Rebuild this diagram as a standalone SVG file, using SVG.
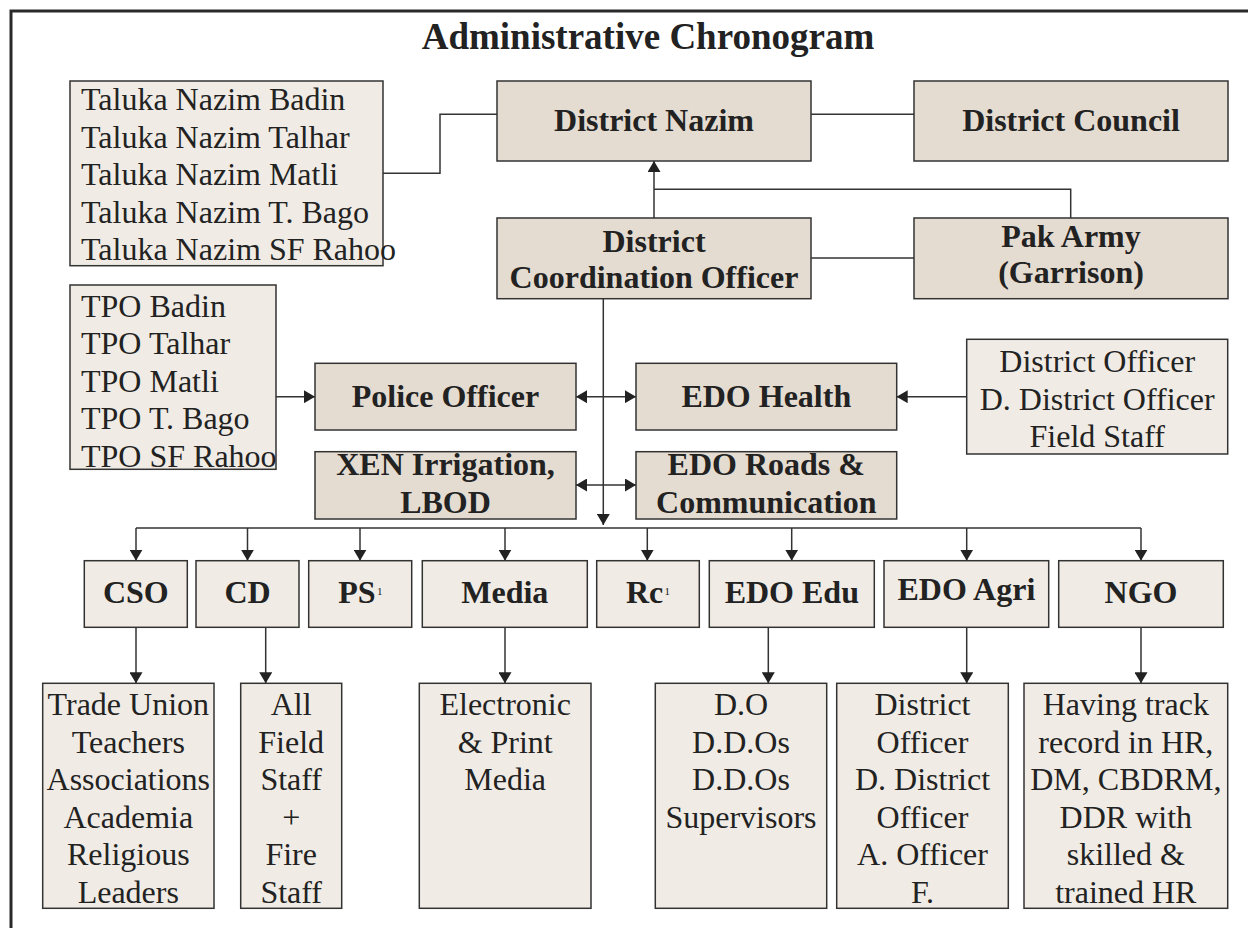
<svg xmlns="http://www.w3.org/2000/svg" width="1248" height="928" viewBox="0 0 1248 928">
<style>
  .dk { fill: #e5dcd1; stroke: #333; stroke-width: 1.5; }
  .lt { fill: #f0ece5; stroke: #333; stroke-width: 1.5; }
  .b { font-family: "Liberation Serif", "DejaVu Serif", serif; font-weight: bold; font-size: 32px; fill: #222; text-anchor: middle; }
  .r { font-family: "Liberation Serif", "DejaVu Serif", serif; font-size: 32px; fill: #222; text-anchor: middle; }
  .l { font-family: "Liberation Serif", "DejaVu Serif", serif; font-size: 32px; fill: #222; }
  .sup { font-family: "Liberation Serif", "DejaVu Serif", serif; font-size: 11px; fill: #222; }
  .c { fill: none; stroke: #333; stroke-width: 1.5; }
  .ar { marker-end: url(#ah); }
  .dbl { marker-start: url(#ah); marker-end: url(#ah); }
</style>
<defs>
  <marker id="ah" viewBox="0 0 11 13" refX="11" refY="6.5" markerWidth="11" markerHeight="13" markerUnits="userSpaceOnUse" orient="auto-start-reverse">
    <path d="M0,0 L11,6.5 L0,13 z" fill="#222"/>
  </marker>
</defs>
<rect width="1248" height="928" fill="#fff"/>
<path d="M11,928 V11 H1248" fill="none" stroke="#2a2a2a" stroke-width="3"/>
<text x="648" y="49" class="b" font-size="37" style="font-size:37px">Administrative Chronogram</text>

<g id="connectors">
  <path class="c" d="M383,173.3 H440 V114.3 H497"/>
  <path class="c" d="M811,114.3 H914"/>
  <path class="c ar" d="M654,218 V161"/>
  <path class="c" d="M1070.7,218 V189.3 H654"/>
  <path class="c" d="M811,258 H914"/>
  <path class="c ar" d="M276,396.7 H315"/>
  <path class="c dbl" d="M576,396.7 H636"/>
  <path class="c ar" d="M966.7,396.7 H896.7"/>
  <path class="c dbl" d="M576,485 H636"/>
  <path class="c ar" d="M603.3,298.7 V525"/>
  <path class="c" d="M136,528 H1141"/>
  <path class="c ar" d="M136,528 V560.7"/>
  <path class="c ar" d="M247.5,528 V560.7"/>
  <path class="c ar" d="M360,528 V560.7"/>
  <path class="c ar" d="M505,528 V560.7"/>
  <path class="c ar" d="M647.3,528 V560.7"/>
  <path class="c ar" d="M791.7,528 V560.7"/>
  <path class="c ar" d="M966.7,528 V560.7"/>
  <path class="c ar" d="M1141,528 V560.7"/>
  <path class="c ar" d="M136,627.3 V683.3"/>
  <path class="c ar" d="M265.7,627.3 V683.3"/>
  <path class="c ar" d="M505,627.3 V683.3"/>
  <path class="c ar" d="M768.3,627.3 V683.3"/>
  <path class="c ar" d="M966.7,627.3 V683.3"/>
  <path class="c ar" d="M1141,627.3 V683.3"/>
</g>

<g id="taluka">
  <rect class="lt" x="70" y="81" width="313" height="184.7"/>
  <text class="l" x="81" y="110">Taluka Nazim Badin</text>
  <text class="l" x="81" y="147.5">Taluka Nazim Talhar</text>
  <text class="l" x="81" y="185">Taluka Nazim Matli</text>
  <text class="l" x="81" y="222.5">Taluka Nazim T. Bago</text>
  <text class="l" x="81" y="260">Taluka Nazim SF Rahoo</text>
</g>

<g id="district-nazim">
  <rect class="dk" x="497" y="81" width="314" height="80"/>
  <text class="b" x="654" y="131">District Nazim</text>
</g>

<g id="district-council">
  <rect class="dk" x="914" y="81" width="314" height="80"/>
  <text class="b" x="1071" y="131">District Council</text>
</g>

<g id="dco">
  <rect class="dk" x="497" y="218" width="314" height="80.7"/>
  <text class="b" x="654" y="251.5">District</text>
  <text class="b" x="654" y="288">Coordination Officer</text>
</g>

<g id="pak-army">
  <rect class="dk" x="914" y="218" width="314" height="80.7"/>
  <text class="b" x="1071" y="246.7">Pak Army</text>
  <text class="b" x="1071" y="282.7">(Garrison)</text>
</g>

<g id="tpo">
  <rect class="lt" x="70" y="285" width="206" height="184.3"/>
  <text class="l" x="81" y="316.7">TPO Badin</text>
  <text class="l" x="81" y="354.2">TPO Talhar</text>
  <text class="l" x="81" y="391.7">TPO Matli</text>
  <text class="l" x="81" y="429.2">TPO T. Bago</text>
  <text class="l" x="81" y="466.7">TPO SF Rahoo</text>
</g>

<g id="police">
  <rect class="dk" x="315" y="363.3" width="261" height="66.7"/>
  <text class="b" x="445.5" y="406.7">Police Officer</text>
</g>

<g id="edo-health">
  <rect class="dk" x="636" y="363.3" width="260.7" height="66.7"/>
  <text class="b" x="766.3" y="406.7">EDO Health</text>
</g>

<g id="health-staff">
  <rect class="lt" x="966.7" y="339.3" width="261" height="114.7"/>
  <text class="r" x="1097.2" y="371.7">District Officer</text>
  <text class="r" x="1097.2" y="409.5">D. District Officer</text>
  <text class="r" x="1097.2" y="446.7">Field Staff</text>
</g>

<g id="xen">
  <rect class="dk" x="315" y="451.7" width="261" height="67.3"/>
  <text class="b" x="445.5" y="475">XEN Irrigation,</text>
  <text class="b" x="445.5" y="513.3">LBOD</text>
</g>

<g id="edo-roads">
  <rect class="dk" x="636" y="451.7" width="260.7" height="67.3"/>
  <text class="b" x="766.3" y="475">EDO Roads &amp;</text>
  <text class="b" x="766.3" y="513.3">Communication</text>
</g>

<g id="cso">
  <rect class="lt" x="84.3" y="560.7" width="103" height="66.6"/>
  <text class="b" x="135.8" y="603.3">CSO</text>
</g>
<g id="cd">
  <rect class="lt" x="196" y="560.7" width="103" height="66.6"/>
  <text class="b" x="247.5" y="603.3">CD</text>
</g>
<g id="ps">
  <rect class="lt" x="308.7" y="560.7" width="103" height="66.6"/>
  <text class="b" x="338.3" y="603.3" style="text-anchor:start">PS</text>
  <text class="sup" x="377" y="595">1</text>
</g>
<g id="media">
  <rect class="lt" x="422.3" y="560.7" width="165" height="66.6"/>
  <text class="b" x="504.8" y="603.3">Media</text>
</g>
<g id="rc">
  <rect class="lt" x="596.7" y="560.7" width="102.6" height="66.6"/>
  <text class="b" x="626" y="603.3" style="text-anchor:start">Rc</text>
  <text class="sup" x="664.5" y="595">1</text>
</g>
<g id="edo-edu">
  <rect class="lt" x="709.3" y="560.7" width="165" height="66.6"/>
  <text class="b" x="791.8" y="603.3">EDO Edu</text>
</g>
<g id="edo-agri">
  <rect class="lt" x="884" y="560.7" width="164.7" height="66.6"/>
  <text class="b" x="966.4" y="600">EDO Agri</text>
</g>
<g id="ngo">
  <rect class="lt" x="1058.7" y="560.7" width="164.6" height="66.6"/>
  <text class="b" x="1141" y="603.3">NGO</text>
</g>

<g id="cso-members">
  <rect class="lt" x="42.7" y="683.3" width="171.3" height="225"/>
  <text class="r" x="128.3" y="715">Trade Union</text>
  <text class="r" x="128.3" y="752.5">Teachers</text>
  <text class="r" x="128.3" y="790">Associations</text>
  <text class="r" x="128.3" y="827.5">Academia</text>
  <text class="r" x="128.3" y="865">Religious</text>
  <text class="r" x="128.3" y="902.5">Leaders</text>
</g>
<g id="cd-staff">
  <rect class="lt" x="240.7" y="683.3" width="101" height="225"/>
  <text class="r" x="291.2" y="715">All</text>
  <text class="r" x="291.2" y="752.5">Field</text>
  <text class="r" x="291.2" y="790">Staff</text>
  <text class="r" x="291.2" y="827.5">+</text>
  <text class="r" x="291.2" y="865">Fire</text>
  <text class="r" x="291.2" y="902.5">Staff</text>
</g>
<g id="media-types">
  <rect class="lt" x="419.3" y="683.3" width="171.7" height="225"/>
  <text class="r" x="505.2" y="715">Electronic</text>
  <text class="r" x="505.2" y="752.5">&amp; Print</text>
  <text class="r" x="505.2" y="790">Media</text>
</g>
<g id="edu-staff">
  <rect class="lt" x="655.3" y="683.3" width="171.4" height="225"/>
  <text class="r" x="741" y="715">D.O</text>
  <text class="r" x="741" y="752.5">D.D.Os</text>
  <text class="r" x="741" y="790">D.D.Os</text>
  <text class="r" x="741" y="827.5">Supervisors</text>
</g>
<g id="agri-staff">
  <rect class="lt" x="836.7" y="683.3" width="171.6" height="225"/>
  <text class="r" x="922.5" y="715">District</text>
  <text class="r" x="922.5" y="752.5">Officer</text>
  <text class="r" x="922.5" y="790">D. District</text>
  <text class="r" x="922.5" y="827.5">Officer</text>
  <text class="r" x="922.5" y="865">A. Officer</text>
  <text class="r" x="922.5" y="902.5">F.</text>
</g>
<g id="ngo-desc">
  <rect class="lt" x="1024" y="683.3" width="203.7" height="225"/>
  <text class="r" x="1125.8" y="715">Having track</text>
  <text class="r" x="1125.8" y="752.5">record in HR,</text>
  <text class="r" x="1125.8" y="790">DM, CBDRM,</text>
  <text class="r" x="1125.8" y="827.5">DDR with</text>
  <text class="r" x="1125.8" y="865">skilled &amp;</text>
  <text class="r" x="1125.8" y="902.5">trained HR</text>
</g>
</svg>
